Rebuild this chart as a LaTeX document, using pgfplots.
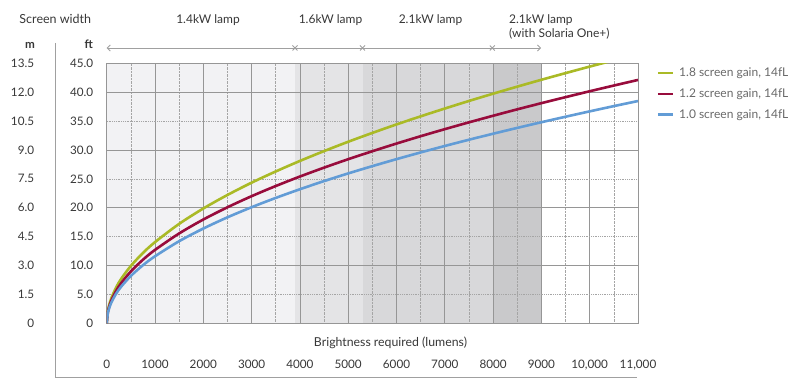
\documentclass[border=0pt]{standalone}
\usepackage{fontspec}
\setmainfont{Lato}
\usepackage{pgfplots}
\pgfplotsset{compat=1.18}
\usetikzlibrary{arrows.meta}
\definecolor{cgreen}{RGB}{170,186,38}
\definecolor{cred}{RGB}{152,12,60}
\definecolor{cblue}{RGB}{98,156,214}
\definecolor{txt}{RGB}{55,55,55}
\definecolor{legtxt}{RGB}{105,105,105}
\definecolor{sh1}{RGB}{242,242,244}
\definecolor{sh2}{RGB}{228,228,230}
\definecolor{sh3}{RGB}{216,216,218}
\definecolor{sh4}{RGB}{201,201,203}
\definecolor{gridc}{RGB}{150,150,150}
\definecolor{dotc}{RGB}{165,165,165}
\definecolor{annc}{RGB}{160,160,160}

\pgfplotstableread{
L      blue   red    green
0      0      0      0
25     1.83   2.01   2.22
50     2.59   2.84   3.14
100    3.67   4.02   4.44
200    5.19   5.68   6.28
300    6.35   6.96   7.70
500    8.20   8.98   9.93
750    10.05  11.00  12.17
1000   11.60  12.70  14.05
1500   14.21  15.55  17.21
2000   16.40  17.96  19.87
2500   18.34  20.08  22.21
3000   20.09  22.00  24.34
3500   21.70  23.76  26.28
4000   23.20  25.40  28.10
4500   24.61  26.94  29.80
5000   25.94  28.40  31.42
5500   27.20  29.78  32.95
6000   28.41  31.11  34.42
6500   29.57  32.38  35.82
7000   30.69  33.60  37.17
7500   31.77  34.78  38.48
8000   32.81  35.92  39.74
8500   33.82  37.03  40.96
9000   34.80  38.10  42.15
9500   35.75  39.14  43.30
10000  36.68  40.16  44.43
10500  37.59  41.15  45.52
11000  38.47  42.12  46.62
}\curves

\begin{document}
\begin{tikzpicture}[x=1pt,y=1pt]
\begin{axis}[
  set layers,
  at={(106.7pt,66.7pt)}, anchor=south west,
  scale only axis, width=531.3pt, height=260pt,
  xmin=0, xmax=11000, ymin=0, ymax=45,
  xtick={0,1000,...,11000},
  xticklabels={0,1000,2000,3000,4000,5000,6000,7000,8000,9000,{10,000},{11,000}},
  ytick={0,10,20,30,40},
  yticklabels={0,10.0,20.0,30.0,40.0},
  extra y ticks={5,15,25,35,45},
  extra y tick labels={5.0,15.0,25.0,35.0,45.0},
  extra y tick style={major grid style={dotc, densely dotted, line width=0.7pt}},
  minor x tick num=1,
  grid=both,
  major grid style={gridc, line width=0.8pt},
  minor grid style={dotc, densely dotted, line width=0.7pt},
  axis line style={gridc, line width=0.9pt},
  major tick length=0pt, minor tick length=0pt,
  ticklabel style={font=\fontsize{11.7}{13}\selectfont, text=txt},
  xticklabel shift=33pt,
  yticklabel shift=10pt,
  scaled x ticks=false,
  clip=true,
  legend style={at={(1,1)}, anchor=north west, xshift=18.5pt, yshift=-2.5pt,
    draw=none, fill=none, font=\fontsize{12}{14}\selectfont, text=legtxt,
    row sep=6.5pt, inner sep=0pt},
  legend cell align=left,
  legend image code/.code={\draw[#1, line width=2.4pt] (0pt,0pt) -- (15pt,0pt); \path (18pt,0pt);},
]
\addplot[on layer=axis background, fill=sh1, draw=none, forget plot] coordinates {(0,45) (3900,45)} \closedcycle;
\addplot[on layer=axis background, fill=sh2, draw=none, forget plot] coordinates {(3900,45) (5300,45)} \closedcycle;
\addplot[on layer=axis background, fill=sh3, draw=none, forget plot] coordinates {(5300,45) (8000,45)} \closedcycle;
\addplot[on layer=axis background, fill=sh4, draw=none, forget plot] coordinates {(8000,45) (9000,45)} \closedcycle;
\addplot[cgreen, line width=2.6pt, smooth] table[x=L, y=green] {\curves};
\addlegendentry{1.8 screen gain, 14fL}
\addplot[cred, line width=2.6pt, smooth] table[x=L, y=red] {\curves};
\addlegendentry{1.2 screen gain, 14fL}
\addplot[cblue, line width=2.6pt, smooth] table[x=L, y=blue] {\curves};
\addlegendentry{1.0 screen gain, 14fL}
\end{axis}

% metres column
\foreach \m/\ft in {0/0,1.5/5,3.0/10,4.5/15,6.0/20,7.5/25,9.0/30,10.5/35,12.0/40,13.5/45}{
  \node[anchor=east, inner sep=0pt, font=\fontsize{11.7}{13}\selectfont, text=txt] at (34.3, 66.7+5.7778*\ft) {\m};
}
\node[anchor=base east, inner sep=0pt, font=\fontsize{11.7}{13}\bfseries\selectfont, text=txt] at (35, 341.7) {m};
\node[anchor=base east, inner sep=0pt, font=\fontsize{11.7}{13}\bfseries\selectfont, text=txt] at (93, 341.7) {ft};

% frame lines
\draw[annc, line width=0.9pt] (55,347) -- (55,13) -- (637,13);

% top labels
\node[anchor=base west, inner sep=0pt, font=\fontsize{12.5}{14}\selectfont, text=txt] at (19.3,366) {Screen width};
\begin{scope}[every node/.style={inner sep=0pt, font=\fontsize{12}{14}\selectfont, text=txt}]
\node[anchor=base] at (208,366) {1.4kW lamp};
\node[anchor=base] at (330.5,366) {1.6kW lamp};
\node[anchor=base] at (430.5,366) {2.1kW lamp};
\node[anchor=base west] at (509,366) {2.1kW lamp};
\node[anchor=base west] at (509,352.5) {(with Solaria One+)};
\end{scope}

% lamp range arrow
\draw[annc, line width=0.8pt, {Straight Barb[length=3pt,width=6pt]}-{Straight Barb[length=3pt,width=6pt]}] (106.7,342) -- (541,342);
\foreach \xx in {295,362.5,492.3}{
  \draw[annc, line width=0.8pt] (\xx-2.5,339.5) -- (\xx+2.5,344.5) (\xx-2.5,344.5) -- (\xx+2.5,339.5);
}

% x axis title
\node[anchor=base, inner sep=0pt, font=\fontsize{12.3}{14}\selectfont, text=txt] at (390.5,43) {Brightness required (lumens)};
\pgfresetboundingbox
\useasboundingbox (0,0) rectangle (800,390);
\end{tikzpicture}
\end{document}
